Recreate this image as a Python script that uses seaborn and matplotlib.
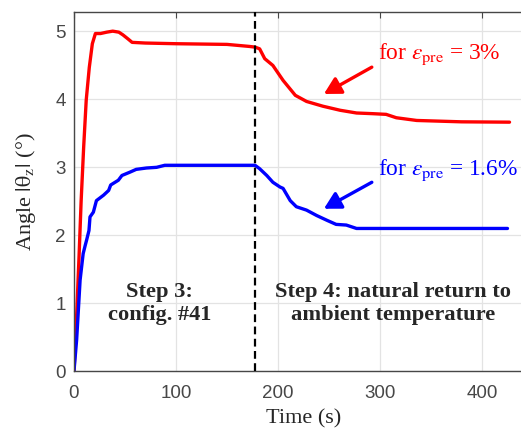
import matplotlib
matplotlib.use("Agg")
import matplotlib.pyplot as plt
import seaborn as sns
import pandas as pd

# Tilt angle over time for two pre-strain levels
t_red = [0, 2, 5, 7, 9.5, 12, 15, 18, 21, 26, 32, 38, 44, 48, 53, 57, 70, 100, 150,
         172, 177.5, 182, 187, 195, 205, 217, 228, 244, 261, 277, 293, 306, 316, 336, 380, 427]
v_red = [0, 0.6, 1.7, 2.5, 3.3, 3.99, 4.47, 4.82, 4.97, 4.97, 4.99, 5.005, 4.99, 4.95, 4.89, 4.84, 4.83, 4.82, 4.81,
         4.78, 4.77, 4.745, 4.6, 4.5, 4.28, 4.06, 3.97, 3.90, 3.84, 3.80, 3.79, 3.78, 3.73, 3.69, 3.67, 3.665]

t_blue = [0, 2.6, 6, 9, 11, 12.4, 14.7, 15.7, 19, 22, 29, 34, 36, 43.5, 47, 55, 61, 71, 81, 89,
          177.5, 182, 189, 195, 202, 205, 212, 218, 228, 238, 248, 257, 267, 277, 425]
v_blue = [0, 0.46, 1.34, 1.73, 1.85, 1.93, 2.07, 2.27, 2.34, 2.51, 2.59, 2.66, 2.74, 2.81, 2.88, 2.93, 2.97, 2.99, 3.0, 3.03,
          3.03, 2.98, 2.88, 2.78, 2.71, 2.69, 2.51, 2.42, 2.37, 2.29, 2.22, 2.16, 2.15, 2.10, 2.10]

step_boundary = 177.5
x_ticks = [0, 100, 200, 300, 400]
y_ticks = [0, 1, 2, 3, 4, 5]

sns.set_style("white")
plt.rcParams["mathtext.fontset"] = "stix"
plt.rcParams["font.family"] = ["Liberation Serif", "DejaVu Serif"]

df = pd.concat([
    pd.DataFrame({"t": t_red, "angle": v_red, "case": "3%"}),
    pd.DataFrame({"t": t_blue, "angle": v_blue, "case": "1.6%"}),
])

fig = plt.figure(figsize=(5.21, 4.29), dpi=100)
ax = fig.add_axes([0.142, 0.135, 0.881, 0.8375])

sns.lineplot(data=df, x="t", y="angle", hue="case", palette={"3%": "#ff0000", "1.6%": "#0000ff"},
             linewidth=2.4, estimator=None, sort=False, legend=False, ax=ax)

ax.axvline(step_boundary, color="black", linestyle=(0, (3.5, 2.0)), linewidth=1.6, zorder=3)

ax.set_xlim(0, 450)
ax.set_ylim(0, 5.29)
ax.set_xticks(x_ticks)
ax.set_yticks(y_ticks)
ax.grid(True, color="#e3e3e3", linewidth=0.9)
ax.set_axisbelow(True)

tick_color = "#474747"
for sp in ax.spines.values():
    sp.set_color(tick_color)
    sp.set_linewidth(1.0)
ax.tick_params(axis="both", direction="in", length=4, width=0.8, color=tick_color,
               labelcolor=tick_color, labelsize=13.5, top=True, right=True)
ax.tick_params(axis="x", pad=10)
ax.tick_params(axis="y", pad=6)
for lab in ax.get_xticklabels() + ax.get_yticklabels():
    lab.set_family(["Liberation Sans", "DejaVu Sans"])

ax.set_xlabel("Time (s)", fontsize=16, labelpad=5)
ax.set_ylabel(r"Angle $|\mathrm{\theta_z}|$ (°)", fontsize=16, labelpad=12)

# Curve labels with arrows pointing at each curve
arrow_style = dict(arrowstyle="-|>,head_length=1.0,head_width=0.55", lw=2.4, shrinkA=0, shrinkB=0)
ax.annotate("", xy=(245, 4.08), xytext=(292, 4.475), arrowprops=dict(color="#ff0000", **arrow_style))
ax.annotate("", xy=(245, 2.39), xytext=(292, 2.78), arrowprops=dict(color="#0000ff", **arrow_style))
ax.text(298, 4.59, r"for $\varepsilon_{\mathrm{pre}}$ = 3%", color="#ff0000", fontsize=16.8,
        ha="left", va="baseline")
ax.text(298, 2.88, r"for $\varepsilon_{\mathrm{pre}}$ = 1.6%", color="#0000ff", fontsize=16.8,
        ha="left", va="baseline")

ax.text(84, 1.0, "Step 3:\nconfig. #41", ha="center", va="center", fontsize=16.2,
        fontweight="bold", linespacing=1.2)
ax.text(313, 1.0, "Step 4: natural return to\nambient temperature", ha="center", va="center",
        fontsize=16.2, fontweight="bold", linespacing=1.2)

fig.savefig("out.png", dpi=100)
